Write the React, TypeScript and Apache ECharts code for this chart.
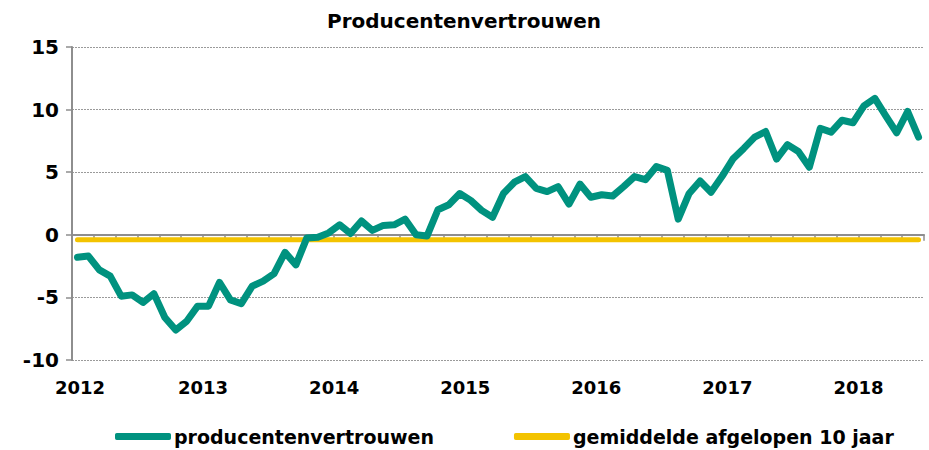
import React, { useEffect, useRef } from "react";
import * as echarts from "echarts";

const startYear = 2012;
const yearTicks = ["2012", "2013", "2014", "2015", "2016", "2017", "2018"];
const producentenvertrouwen = [
  -1.8, -1.7, -2.8, -3.3, -4.9, -4.8, -5.4, -4.7, -6.6, -7.6, -6.9, -5.7,
  -5.7, -3.8, -5.2, -5.5, -4.1, -3.7, -3.1, -1.4, -2.4, -0.25, -0.2, 0.15,
  0.8, 0.1, 1.1, 0.35, 0.75, 0.8, 1.25, 0.0, -0.1, 2.0, 2.4, 3.3,
  2.75, 1.95, 1.4, 3.3, 4.2, 4.65, 3.7, 3.45, 3.85, 2.45, 4.05, 3.0,
  3.2, 3.1, 3.85, 4.65, 4.4, 5.45, 5.15, 1.25, 3.3, 4.3, 3.4, 4.65,
  6.05, 6.9, 7.8, 8.25, 6.05, 7.2, 6.65, 5.4, 8.5, 8.2, 9.15, 8.95,
  10.3, 10.9, 9.5, 8.15, 9.85, 7.8,
];
const gemiddelde10jaar = -0.4;
const yTicks = [-10, -5, 0, 5, 10, 15];

const FONT = "DejaVu Sans";
const TEAL = "#00927F";
const YELLOW = "#F3C300";
const GRAY = "#8E8E8E";

export default function App() {
  const ref = useRef<HTMLDivElement>(null);
  useEffect(() => {
    if (!ref.current) return;
    const chart = echarts.init(ref.current, undefined, { renderer: "svg" });
    const nMonths = producentenvertrouwen.length;
    const lineData = producentenvertrouwen.map((v, i) => [i + 0.5, v]);
    const avgData = producentenvertrouwen.map((_, i) => [i + 0.5, gemiddelde10jaar]);
    chart.setOption({
      animation: false,
      title: {
        text: "Producentenvertrouwen",
        left: 464,
        textAlign: "center",
        top: 11,
        padding: 0,
        textStyle: { fontFamily: FONT, fontWeight: "bold", fontSize: 20, color: "#000" },
      },
      legend: {
        left: 115,
        top: 427,
        padding: 0,
        itemWidth: 56,
        itemHeight: 7,
        itemGap: 80,
        icon: "roundRect",
        textStyle: { fontFamily: FONT, fontWeight: "bold", fontSize: 19, color: "#000", padding: [0, 0, 0, -2] },
        data: ["producentenvertrouwen", "gemiddelde afgelopen 10 jaar"],
      },
      grid: { left: 72, right: 5, top: 47, bottom: 90, containLabel: false },
      xAxis: [
        {
          type: "value",
          min: 0,
          max: nMonths,
          interval: 12,
          position: "bottom",
          axisLine: { show: false, onZero: false },
          axisTick: { show: false },
          splitLine: { show: false },
          axisLabel: {
            showMaxLabel: false,
            margin: 18,
            fontFamily: FONT,
            fontWeight: "bold",
            fontSize: 18,
            color: "#000",
            formatter: (v: number) => {
              const idx = Math.round(v / 12);
              const t = yearTicks[idx] ?? String(startYear + idx);
              return idx === 0 ? "{first|" + t + "}" : t;
            },
            rich: {
              first: { fontFamily: FONT, fontWeight: "bold", fontSize: 18, color: "#000", padding: [0, 0, 0, 16] },
            },
          },
        },
        {
          type: "value",
          min: 0,
          max: nMonths,
          interval: 2,
          position: "bottom",
          axisLine: { show: true, onZero: true, lineStyle: { color: GRAY, width: 2 } },
          axisTick: { show: true, length: 6, lineStyle: { color: GRAY, width: 1.5 } },
          axisLabel: { show: false },
          splitLine: { show: false },
        },
      ],
      yAxis: {
        type: "value",
        min: yTicks[0],
        max: yTicks[yTicks.length - 1],
        interval: 5,
        axisLine: { show: true, lineStyle: { color: GRAY, width: 2 } },
        axisTick: { show: true, length: 6, lineStyle: { color: GRAY, width: 1.5 } },
        axisLabel: {
          margin: 13,
          fontFamily: FONT,
          fontWeight: "bold",
          fontSize: 20,
          color: "#000",
        },
        splitLine: { show: true, lineStyle: { color: "#9a9a9a", width: 1, type: [2, 1] } },
      },
      series: [
        {
          name: "producentenvertrouwen",
          type: "line",
          xAxisIndex: 0,
          data: lineData,
          showSymbol: false,
          symbol: "none",
          z: 4,
          itemStyle: { color: TEAL },
          lineStyle: { color: TEAL, width: 7, cap: "round", join: "round" },
        },
        {
          name: "gemiddelde afgelopen 10 jaar",
          type: "line",
          xAxisIndex: 0,
          data: avgData,
          showSymbol: false,
          symbol: "none",
          z: 3,
          itemStyle: { color: YELLOW },
          lineStyle: { color: YELLOW, width: 5, cap: "round" },
        },
      ],
    });
    return () => chart.dispose();
  }, []);
  return <div ref={ref} style={{ width: 929, height: 450, position: "absolute", left: 0, top: 0 }} />;
}
